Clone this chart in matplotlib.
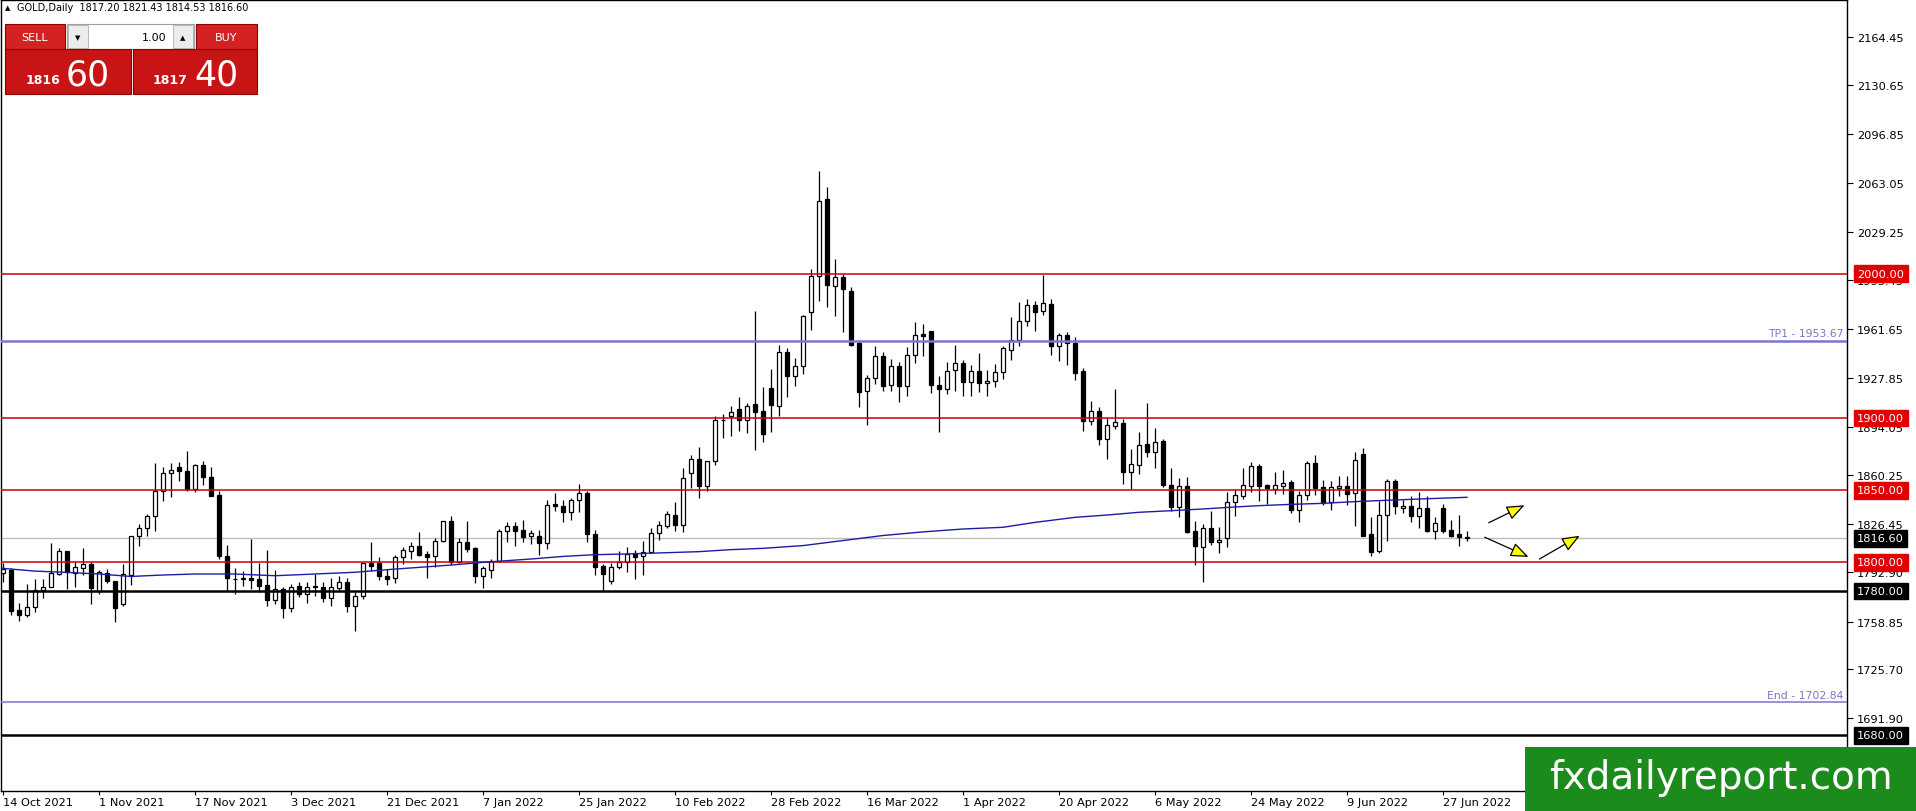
import numpy as np
import matplotlib.pyplot as plt
from matplotlib.patches import Rectangle, FancyArrowPatch

W, H = 1916, 812

# daily GOLD bars, 14 Oct 2021 .. 30 Jun 2022 (one value per bar)
opens = [1792.5, 1794.8, 1766.8, 1763.6, 1768.6, 1780.9, 1782.5, 1792.0, 1807.5, 1792.3,
         1796.2, 1798.5, 1780.0, 1792.3, 1786.7, 1770.7, 1791.1, 1817.9, 1823.4, 1831.8,
         1849.1, 1861.6, 1865.7, 1863.0, 1850.7, 1867.4, 1858.8, 1846.6, 1804.0, 1788.3,
         1788.3, 1789.0, 1788.3, 1784.2, 1774.0, 1781.4, 1768.0, 1783.7, 1777.7, 1783.0,
         1782.5, 1774.9, 1782.1, 1786.0, 1769.8, 1776.3, 1799.4, 1799.4, 1790.2, 1788.8,
         1803.4, 1807.5, 1811.4, 1805.7, 1804.1, 1814.5, 1828.3, 1800.4, 1813.8, 1809.6,
         1790.2, 1794.6, 1800.6, 1821.4, 1825.3, 1822.3, 1817.9, 1818.4, 1813.0, 1840.1,
         1839.2, 1834.6, 1842.9, 1848.0, 1819.3, 1797.6, 1787.2, 1796.9, 1800.4, 1806.1,
         1804.0, 1806.8, 1820.0, 1825.3, 1832.7, 1826.0, 1861.6, 1871.6, 1853.0, 1869.9,
         1898.6, 1901.2, 1906.2, 1898.8, 1909.7, 1904.6, 1920.6, 1908.5, 1945.5, 1929.4,
         1936.3, 1973.3, 1998.3, 2051.9, 1991.3, 1997.6, 1987.9, 1951.8, 1918.5, 1927.5,
         1943.2, 1922.9, 1935.8, 1921.9, 1943.9, 1958.0, 1960.1, 1923.1, 1920.1, 1933.3,
         1938.1, 1925.2, 1932.8, 1924.0, 1925.4, 1931.7, 1947.4, 1954.4, 1967.0, 1978.4,
         1974.5, 1979.1, 1950.2, 1957.8, 1952.0, 1932.4, 1898.2, 1905.1, 1885.4, 1894.7,
         1896.5, 1862.8, 1867.6, 1881.9, 1876.6, 1883.8, 1853.8, 1838.0, 1852.6, 1821.4,
         1810.3, 1823.5, 1814.2, 1816.5, 1841.5, 1845.7, 1853.0, 1866.9, 1853.5, 1850.7,
         1852.6, 1855.8, 1836.4, 1846.6, 1868.8, 1851.9, 1841.5, 1851.7, 1853.0, 1848.0,
         1875.0, 1819.5, 1808.0, 1832.9, 1856.5, 1837.3, 1838.7, 1832.2, 1837.3, 1821.9,
         1837.3, 1822.5, 1819.5, 1817.2]
highs = [1799.4, 1795.7, 1771.7, 1784.8, 1788.3, 1788.3, 1813.3, 1809.8, 1807.5, 1801.0,
         1810.0, 1799.9, 1794.8, 1795.2, 1786.7, 1798.7, 1817.9, 1826.4, 1833.4, 1868.8,
         1865.7, 1868.5, 1869.7, 1876.8, 1868.0, 1870.4, 1865.7, 1849.6, 1811.9, 1795.7,
         1794.1, 1816.0, 1799.4, 1808.7, 1794.6, 1782.5, 1784.9, 1786.0, 1786.5, 1791.8,
         1786.0, 1788.8, 1790.6, 1788.8, 1779.1, 1799.4, 1814.2, 1803.4, 1795.3, 1805.0,
         1810.8, 1813.8, 1820.7, 1808.0, 1816.5, 1828.3, 1831.8, 1816.5, 1828.8, 1810.3,
         1797.6, 1802.2, 1823.0, 1827.6, 1828.0, 1829.5, 1822.5, 1822.5, 1843.1, 1848.0,
         1843.1, 1844.3, 1854.2, 1849.6, 1822.5, 1798.7, 1799.2, 1808.0, 1810.3, 1808.7,
         1814.5, 1823.5, 1828.8, 1835.7, 1841.9, 1865.1, 1874.6, 1880.1, 1869.9, 1901.6,
         1902.8, 1908.0, 1914.3, 1910.4, 1974.5, 1921.2, 1934.0, 1950.6, 1948.3, 1941.4,
         1971.4, 2003.3, 2071.5, 2060.0, 2010.3, 1999.9, 1990.6, 1953.6, 1929.8, 1950.2,
         1946.0, 1940.9, 1938.6, 1949.0, 1966.4, 1965.2, 1960.1, 1929.4, 1939.0, 1950.6,
         1940.4, 1936.8, 1944.8, 1933.5, 1937.4, 1950.2, 1969.8, 1980.2, 1982.5, 1981.4,
         1999.2, 1982.5, 1959.0, 1959.4, 1956.0, 1934.5, 1911.6, 1907.9, 1899.8, 1920.1,
         1899.3, 1878.5, 1890.1, 1910.4, 1892.9, 1885.4, 1865.1, 1858.1, 1858.8, 1828.3,
         1826.5, 1835.7, 1824.2, 1848.9, 1850.8, 1865.1, 1869.7, 1868.1, 1854.2, 1862.3,
         1864.2, 1857.2, 1849.6, 1870.4, 1874.6, 1857.2, 1856.5, 1859.5, 1859.5, 1876.2,
         1879.0, 1831.1, 1842.7, 1857.7, 1857.7, 1843.1, 1846.1, 1848.9, 1845.7, 1831.5,
         1840.4, 1829.2, 1832.7, 1821.4]
lows = [1786.0, 1763.3, 1759.4, 1762.2, 1765.6, 1775.4, 1782.5, 1791.1, 1781.4, 1783.0,
        1791.0, 1771.2, 1777.7, 1785.5, 1758.2, 1769.8, 1784.4, 1811.4, 1818.4, 1821.8,
        1842.6, 1845.0, 1856.0, 1849.6, 1848.9, 1853.5, 1846.1, 1802.2, 1780.2, 1777.9,
        1783.7, 1781.4, 1779.1, 1769.4, 1771.0, 1761.0, 1765.2, 1775.6, 1771.4, 1776.3,
        1772.6, 1769.4, 1780.2, 1765.2, 1752.5, 1774.5, 1794.1, 1787.9, 1784.2, 1785.3,
        1798.7, 1802.2, 1804.5, 1788.8, 1796.4, 1813.8, 1798.0, 1799.4, 1806.8, 1785.3,
        1781.8, 1788.8, 1799.9, 1814.2, 1811.4, 1813.8, 1812.6, 1805.0, 1809.1, 1835.7,
        1828.1, 1829.5, 1834.6, 1814.2, 1791.1, 1780.2, 1784.9, 1795.3, 1793.4, 1788.3,
        1791.3, 1806.4, 1815.6, 1823.5, 1821.4, 1820.7, 1851.2, 1844.3, 1849.6, 1867.6,
        1886.1, 1887.7, 1891.2, 1889.6, 1878.0, 1883.1, 1890.5, 1901.2, 1914.3, 1922.4,
        1930.5, 1961.3, 1981.4, 1976.8, 1971.0, 1959.4, 1950.2, 1907.4, 1895.4, 1923.6,
        1918.5, 1918.5, 1910.9, 1915.5, 1938.1, 1943.2, 1917.3, 1890.0, 1916.6, 1918.9,
        1915.5, 1915.5, 1917.8, 1915.5, 1921.3, 1927.1, 1940.5, 1949.7, 1963.6, 1960.6,
        1971.7, 1943.7, 1939.8, 1936.8, 1926.4, 1891.2, 1895.1, 1881.3, 1871.6, 1892.4,
        1854.2, 1850.8, 1861.1, 1872.7, 1865.1, 1851.9, 1835.7, 1831.1, 1820.2, 1798.3,
        1786.5, 1811.9, 1806.4, 1810.3, 1831.8, 1843.8, 1848.9, 1842.7, 1840.4, 1847.3,
        1847.3, 1834.1, 1828.1, 1843.4, 1846.6, 1839.6, 1836.4, 1846.1, 1839.6, 1824.9,
        1817.9, 1804.5, 1806.4, 1814.9, 1833.4, 1834.1, 1828.1, 1823.5, 1820.7, 1816.1,
        1820.2, 1817.2, 1811.4, 1814.5]
closes = [1795.2, 1766.3, 1763.6, 1768.6, 1780.9, 1782.7, 1792.3, 1807.5, 1793.0, 1796.4,
          1798.5, 1782.3, 1793.0, 1787.2, 1768.4, 1791.5, 1817.9, 1823.4, 1831.8, 1849.1,
          1861.8, 1864.1, 1863.0, 1850.7, 1867.4, 1858.8, 1846.1, 1804.0, 1788.8, 1788.5,
          1788.8, 1787.6, 1783.7, 1774.0, 1781.4, 1768.0, 1782.5, 1777.7, 1783.0, 1783.5,
          1774.9, 1782.5, 1786.0, 1769.8, 1776.3, 1799.4, 1797.6, 1790.2, 1788.3, 1803.4,
          1808.4, 1811.4, 1805.2, 1803.8, 1814.5, 1828.3, 1800.4, 1813.8, 1809.1, 1790.6,
          1795.7, 1801.0, 1821.4, 1825.3, 1821.9, 1817.2, 1819.9, 1813.0, 1839.9, 1838.7,
          1834.6, 1842.9, 1848.0, 1819.3, 1796.9, 1791.6, 1796.4, 1800.4, 1805.7, 1803.8,
          1807.3, 1820.0, 1825.8, 1833.4, 1826.0, 1858.1, 1871.6, 1853.0, 1869.9, 1898.6,
          1898.8, 1904.4, 1898.6, 1908.5, 1903.9, 1888.9, 1909.0, 1945.5, 1928.9, 1936.3,
          1971.0, 1998.7, 2050.7, 1992.5, 1997.6, 1989.5, 1950.9, 1917.8, 1927.5, 1942.8,
          1921.9, 1935.8, 1921.9, 1943.9, 1957.8, 1957.0, 1923.1, 1920.1, 1932.8, 1938.1,
          1925.2, 1932.8, 1924.0, 1925.4, 1932.1, 1948.3, 1954.4, 1967.0, 1978.4, 1973.8,
          1979.8, 1950.2, 1957.8, 1951.8, 1931.2, 1898.2, 1905.1, 1885.4, 1895.1, 1897.0,
          1862.8, 1868.1, 1881.3, 1876.6, 1883.1, 1853.5, 1838.0, 1852.6, 1821.2, 1811.4,
          1823.5, 1814.2, 1815.6, 1841.5, 1846.6, 1853.5, 1866.5, 1853.0, 1851.2, 1853.5,
          1854.9, 1836.4, 1846.6, 1868.8, 1851.2, 1841.0, 1851.9, 1853.0, 1847.3, 1871.1,
          1818.4, 1807.3, 1832.9, 1856.5, 1839.2, 1838.7, 1832.2, 1837.3, 1821.9, 1826.9,
          1821.9, 1818.4, 1817.2, 1816.6]

# moving average, sampled at some bars
ma_idx = [0, 4, 8, 12, 16, 20, 24, 29, 34, 39, 44, 48, 52, 56, 60, 66, 70, 74, 78, 82, 87,
          91, 95, 100, 105, 110, 115, 120, 125, 129, 134, 138, 142, 146, 150, 154, 157, 161,
          165, 169, 172, 177, 183]
ma_val = [1795.7, 1793.8, 1792.9, 1791.8, 1790.1, 1791.1, 1791.8, 1791.8, 1790.6, 1791.8,
          1793.0, 1794.8, 1796.4, 1798.0, 1799.9, 1802.2, 1804.0, 1805.2, 1805.7, 1806.4,
          1807.3, 1808.7, 1809.6, 1811.5, 1815.0, 1818.5, 1821.0, 1823.0, 1824.2, 1827.6,
          1831.1, 1832.7, 1834.6, 1835.7, 1836.9, 1838.3, 1839.2, 1840.1, 1840.8, 1842.0,
          1842.7, 1843.8, 1845.0]

date_pos = [0, 12, 24, 36, 48, 60, 72, 84, 96, 108, 120, 132, 144, 156, 168, 180]
date_labels = ['14 Oct 2021', '1 Nov 2021', '17 Nov 2021', '3 Dec 2021', '21 Dec 2021',
               '7 Jan 2022', '25 Jan 2022', '10 Feb 2022', '28 Feb 2022', '16 Mar 2022',
               '1 Apr 2022', '20 Apr 2022', '6 May 2022', '24 May 2022', '9 Jun 2022',
               '27 Jun 2022']
price_ticks = [2164.45, 2130.65, 2096.85, 2063.05, 2029.25, 1995.45, 1961.65, 1927.85,
               1894.05, 1860.25, 1826.45, 1792.90, 1758.85, 1725.70, 1691.90]

red_levels = [2000.00, 1900.00, 1850.00, 1800.00]
black_levels = [1780.00, 1680.00]
tp_level = 1953.67
end_level = 1702.84
last_price = 1816.60

RED = '#cc0000'
SLATE = '#7b76cc'
FONT = 'DejaVu Sans'
plt.rcParams['font.family'] = FONT

fig = plt.figure(figsize=(W / 100, H / 100), dpi=100)
ax = fig.add_axes([1 / W, 20 / H, 1846 / W, 791 / H])
ax.set_xlim(-0.25, 230.5)
ax.set_ylim(1641.3, 2189.9)

o = np.array(opens)
c = np.array(closes)
x = np.arange(len(o))
up = c >= o

# candles
ax.vlines(x, lows, highs, color='black', lw=0.9, zorder=3)
ax.bar(x, np.abs(c - o), bottom=np.minimum(o, c), width=0.62,
       color=np.where(up, 'white', 'black'), edgecolor='black', linewidth=0.9, zorder=4)

# levels
for lv in red_levels:
    ax.axhline(lv, color=RED, lw=1.1, zorder=5)
for lv in black_levels:
    ax.axhline(lv, color='black', lw=1.8, zorder=5)
ax.axhline(tp_level, color=SLATE, lw=1.8, zorder=5)
ax.axhline(end_level, color=SLATE, lw=1.1, zorder=5)
ax.axhline(last_price, color='#bdbdbd', lw=1.0, zorder=2)

ax.plot(ma_idx, ma_val, color='#1c1ca8', lw=1.0, zorder=6)

yt = ax.get_yaxis_transform()
ax.text(0.998, tp_level + 1.5, 'TP1 - 1953.67', transform=yt, ha='right', va='bottom',
        color=SLATE, fontsize=7.8)
ax.text(0.998, end_level + 1.5, 'End - 1702.84', transform=yt, ha='right', va='bottom',
        color=SLATE, fontsize=7.8)

# arrows drawn on the chart
arrows = [((185.4, 1826.5), (190.5, 1840.3)),
          ((184.9, 1818.1), (191.0, 1802.9)),
          ((191.75, 1801.2), (197.4, 1819.3))]
for a, b in arrows:
    ax.add_patch(FancyArrowPatch(a, b, arrowstyle='-|>,head_length=1.0,head_width=0.4',
                                 mutation_scale=11, fc='#ffff00', ec='black', lw=0.9,
                                 zorder=8))

# axes
for s in ax.spines.values():
    s.set_color('black')
    s.set_linewidth(1.0)
ax.yaxis.tick_right()
ax.set_yticks(price_ticks)
ax.set_yticklabels([f'{p:.2f}' for p in price_ticks])
ax.tick_params(axis='y', direction='out', length=4, pad=3, labelsize=8.2, colors='black')
ax.set_xticks(date_pos)
ax.set_xticklabels(date_labels)
ax.tick_params(axis='x', direction='out', length=3, pad=1, labelsize=8.2)
for lab in ax.get_xticklabels():
    lab.set_horizontalalignment('left')

# price boxes on the right scale
def right_box(price, fc):
    ax.text(1.0055, price, f'{price:.2f}', transform=yt, ha='left', va='center',
            fontsize=8.2, color='white', zorder=10, clip_on=False,
            bbox=dict(boxstyle='square,pad=0.3', fc=fc, ec=fc))

for lv in red_levels:
    right_box(lv, '#e00000')
for lv in black_levels:
    right_box(lv, 'black')
right_box(last_price, 'black')

# overlay in pixel coordinates: header, one-click panel, watermark
ov = fig.add_axes([0, 0, 1, 1])
ov.set_xlim(0, W)
ov.set_ylim(H, 0)
ov.axis('off')

ov.text(5, 8, '\u25b2', fontsize=5, va='center', ha='left')
ov.text(17, 8, 'GOLD,Daily  1817.20 1821.43 1814.53 1816.60', fontsize=7, va='center',
        ha='left')

btn = '#d42222'
box = '#c81414'
ov.add_patch(Rectangle((5, 25), 60, 25, fc=btn, ec='#8c0000', lw=0.8))
ov.text(35, 38, 'SELL', color='white', fontsize=8, ha='center', va='center')
ov.add_patch(Rectangle((196, 25), 61, 25, fc=btn, ec='#8c0000', lw=0.8))
ov.text(226, 38, 'BUY', color='white', fontsize=8, ha='center', va='center')
ov.add_patch(Rectangle((67, 25), 127, 25, fc='white', ec='#a0a0a0', lw=0.8))
ov.add_patch(Rectangle((68, 26), 20, 23, fc='#ececec', ec='#b0b0b0', lw=0.6))
ov.add_patch(Rectangle((173, 26), 20, 23, fc='#ececec', ec='#b0b0b0', lw=0.6))
ov.text(78, 38, '\u25bc', fontsize=5, ha='center', va='center')
ov.text(183, 38, '\u25b2', fontsize=5, ha='center', va='center')
ov.text(154, 38, '1.00', fontsize=8, ha='center', va='center')
ov.add_patch(Rectangle((5, 50), 126, 45, fc=box, ec='#8c0000', lw=0.8))
ov.add_patch(Rectangle((133, 50), 124, 45, fc=box, ec='#8c0000', lw=0.8))
ov.text(43, 81, '1816', color='white', fontsize=9, fontweight='bold', ha='center',
        va='center')
ov.text(88, 75, '60', color='white', fontsize=25, ha='center', va='center')
ov.text(170, 81, '1817', color='white', fontsize=9, fontweight='bold', ha='center',
        va='center')
ov.text(216, 75, '40', color='white', fontsize=25, ha='center', va='center')

ov.add_patch(Rectangle((1525, 748), 391, 64, fc='#1b8c1b', ec='none'))
ov.text(1721, 778, 'fxdailyreport.com', color='white', fontsize=28, ha='center',
        va='center')

fig.savefig('out.png', dpi=100, facecolor='white')
